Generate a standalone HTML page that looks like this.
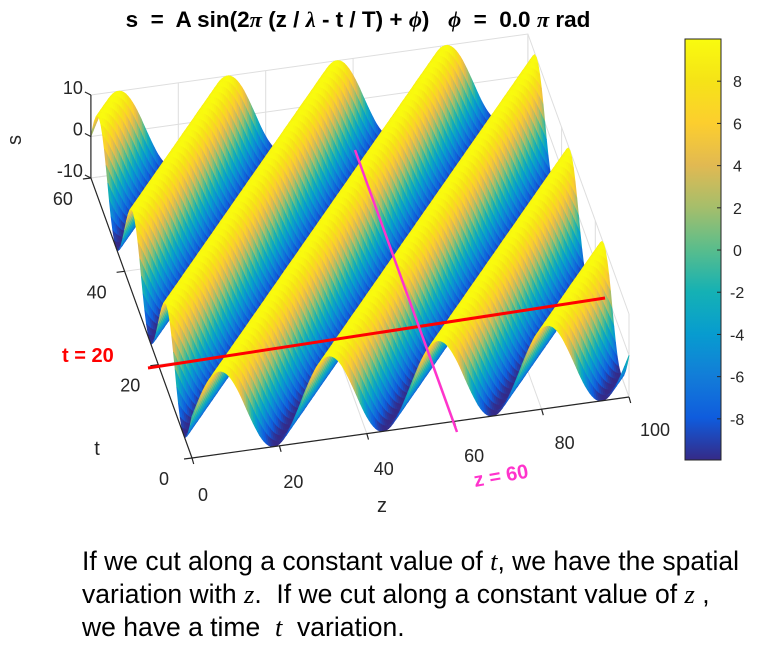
<!DOCTYPE html>
<html><head><meta charset="utf-8">
<style>
html,body{margin:0;padding:0;background:#fff;}
body{width:775px;height:664px;overflow:hidden;position:relative;font-family:"Liberation Sans",sans-serif;}
svg{position:absolute;left:0;top:0;}
.cap{position:absolute;left:82px;font-size:26.5px;color:#000;white-space:pre;line-height:33px;}
</style></head>
<body>
<svg id="chart" width="775" height="664" xml:space="preserve">
  <g id="grid"></g>
  <g id="surf"></g>
  <g id="axes"></g>
  <g id="cbar"></g>
  <text x="358" y="27" text-anchor="middle" font-size="22.5" font-weight="bold" style="white-space:pre">s  =  A sin(2<tspan font-family="Liberation Serif" font-style="italic">π</tspan> (z / <tspan font-family="Liberation Serif" font-style="italic">λ</tspan> - t / T) + <tspan font-family="Liberation Serif" font-style="italic">ϕ</tspan>)   <tspan font-family="Liberation Serif" font-style="italic">ϕ</tspan>  =  0.0 <tspan font-family="Liberation Serif" font-style="italic">π</tspan> rad</text>
  <line x1="148" y1="368" x2="605" y2="298" stroke="#ff0000" stroke-width="3"/>
  <line x1="355" y1="150" x2="457" y2="432" stroke="#ff33cc" stroke-width="2.5"/>
  <text x="62" y="362" font-size="20" font-weight="bold" fill="#ff0000">t = 20</text>
  <text x="475" y="487" font-size="20" font-weight="bold" fill="#ff33cc" transform="rotate(-10 475 487)">z = 60</text>
</svg>
<div class="cap" style="top:545px">If we cut along a constant value of <i style="font-family:'Liberation Serif'">t</i>, we have the spatial</div>
<div class="cap" style="top:578px">variation with <i style="font-family:'Liberation Serif'">z</i>.  If we cut along a constant value of <i style="font-family:'Liberation Serif'">z</i> ,</div>
<div class="cap" style="top:611px">we have a time  <i style="font-family:'Liberation Serif'">t</i>  variation.</div>
<script>
const amplitude=[10];
const wavelength=[25];
const period=[20];
const phase=[0];
const zTicks=[0,20,40,60,80,100];
const tTicks=[0,20,40,60];
const sTicks=[-10,0,10];
const cbarTicks=[8,6,4,2,0,-2,-4,-6,-8];

const NS='http://www.w3.org/2000/svg';
const O=[192,458-41.5];
function P(z,t,s){return [O[0]+4.37*z-1.685*t, O[1]-0.61*z-4.667*t-4.15*s];}
const stops=[[53,42,135],[15,92,221],[18,125,216],[7,156,207],[21,177,180],[89,189,140],[165,190,107],[225,185,82],[252,206,46],[245,227,23],[249,251,14]];
function cmap(v){v=Math.max(0,Math.min(1,v));const f=v*10,i=Math.min(9,Math.floor(f)),r=f-i;const a=stops[i],b=stops[i+1];
 return 'rgb('+a.map((x,k)=>Math.round(x+(b[k]-x)*r)).join(',')+')';}
function el(tag,attrs,parent){const e=document.createElementNS(NS,tag);for(const k in attrs)e.setAttribute(k,attrs[k]);parent.appendChild(e);return e;}
function pts(a){return a.map(p=>p[0].toFixed(1)+','+p[1].toFixed(1)).join(' ');}
const A=amplitude[0],L=wavelength[0],T=period[0],PH=phase[0];
function S(z,t){return A*Math.sin(2*Math.PI*(z/L-t/T)+PH);}

const grid=document.getElementById('grid');
const gs={stroke:'#dedede','stroke-width':1,fill:'none'};
let g;
zTicks.forEach(z=>{const a=P(z,0,-10),b=P(z,60,-10),c=P(z,60,10);
 g=el('polyline',Object.assign({points:pts([a,b,c])},gs),grid);
 
 });
tTicks.forEach(t=>{const a=P(0,t,-10),b=P(100,t,-10),c=P(100,t,10);
 g=el('polyline',Object.assign({points:pts([a,b,c])},gs),grid);
 
 });
sTicks.forEach(s=>{const a=P(0,60,s),b=P(100,60,s),c=P(100,0,s);
 g=el('polyline',Object.assign({points:pts([a,b,c])},gs),grid);
 
 });

const surf=document.getElementById('surf');
const quads=[];
const dz=0.5,dt=1;
for(let t=0;t<60;t+=dt){for(let z=0;z<100;z+=dz){
 const c=[[z,t],[z+dz,t],[z+dz,t+dt],[z,t+dt]];
 const s=c.map(q=>S(q[0],q[1]));const sm=S(z+dz/2,t+dt/2);
 quads.push({k:0.61*(z+dz/2)+4.667*(t+dt/2),p:c.map((q,i)=>P(q[0],q[1],s[i])),s:sm});}}
quads.sort((a,b)=>b.k-a.k);
let frag=document.createDocumentFragment();
quads.forEach(q=>{const col=cmap((q.s+10)/20);
 const e=document.createElementNS(NS,'polygon');e.setAttribute('points',pts(q.p));e.setAttribute('fill',col);e.setAttribute('stroke',col);e.setAttribute('stroke-width','0.8');e.setAttribute('stroke-linejoin','round');
 
 
 frag.appendChild(e);});
surf.appendChild(frag);

const ax=document.getElementById('axes');
const ls={stroke:'#262626','stroke-width':1.2,fill:'none'};
let e;
e=el('line',Object.assign({x1:P(0,0,-10)[0],y1:P(0,0,-10)[1],x2:P(100,0,-10)[0],y2:P(100,0,-10)[1]},ls),ax);


e=el('line',Object.assign({x1:P(0,0,-10)[0],y1:P(0,0,-10)[1],x2:P(0,60,-10)[0],y2:P(0,60,-10)[1]},ls),ax);


e=el('line',Object.assign({x1:P(0,60,-10)[0],y1:P(0,60,-10)[1],x2:P(0,60,10)[0],y2:P(0,60,10)[1]},ls),ax);


const fs={'font-size':18,fill:'#262626','text-anchor':'middle'};
zTicks.forEach(z=>{const p=P(z,0,-10);
 e=el('line',Object.assign({x1:p[0],y1:p[1],x2:p[0]+1.7,y2:p[1]+6},ls),ax);
 
 
 e=el('text',Object.assign({x:p[0]+11+z*0.15,y:p[1]+43-z*0.04},fs),ax);e.textContent=z;
 
 });
tTicks.forEach(t=>{const p=P(0,t,-10);
 e=el('line',Object.assign({x1:p[0],y1:p[1],x2:p[0]-8,y2:p[1]+1},ls),ax);
 
 
 e=el('text',Object.assign({x:p[0]-28,y:p[1]+27},fs),ax);e.textContent=t;
 
 });
sTicks.forEach(s=>{const p=P(0,60,s);
 e=el('line',Object.assign({x1:p[0],y1:p[1],x2:p[0]-6,y2:p[1]-3},ls),ax);
 
 
 e=el('text',Object.assign({x:p[0]-8,y:p[1]-1,'text-anchor':'end','font-size':18,fill:'#262626'}),ax);e.textContent=s;
 
 });
e=el('text',{x:382,y:512,'font-size':20,fill:'#262626','text-anchor':'middle'},ax);e.textContent='z';


e=el('text',{x:97,y:455,'font-size':20,fill:'#262626','text-anchor':'middle'},ax);e.textContent='t';


e=el('text',{x:21,y:140,'font-size':20,fill:'#262626','text-anchor':'middle',transform:'rotate(-90 21 140)'},ax);e.textContent='s';



const cb=document.getElementById('cbar');
const cx=685,cw=36,cy0=39,cy1=460,cmin=-9.95,cmax=10;
function cyv(v){return cy1-(v-cmin)/(cmax-cmin)*(cy1-cy0);}
const defs=el('defs',{},cb);
const lg=el('linearGradient',{id:'cg',x1:0,y1:1,x2:0,y2:0},defs);
for(let i=0;i<=20;i++){el('stop',{offset:i/20,'stop-color':cmap(i/20)},lg);}
e=el('rect',{x:cx,y:cy0,width:cw,height:cy1-cy0,fill:'url(#cg)',stroke:'#262626','stroke-width':1},cb);


cbarTicks.forEach(v=>{const y=cyv(v);
 e=el('line',{x1:cx+cw-4,y1:y,x2:cx+cw,y2:y,stroke:'#262626'},cb);
 
 
 e=el('text',{x:cx+cw+(v<0?9:12),y:y+6,'font-size':16,fill:'#262626'},cb);e.textContent=v;
 
 });
</script>
</body></html>
